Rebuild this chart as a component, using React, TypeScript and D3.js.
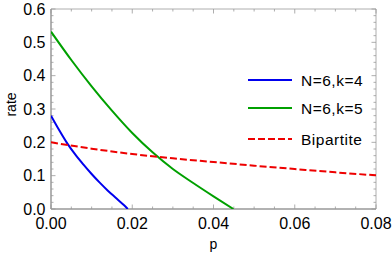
import React, { useEffect, useRef } from 'react';
import * as d3 from 'd3';

// curve data [p, rate]
const blueSeries: [number, number][] = [
  [0, 0.28], [0.002, 0.237], [0.004, 0.197], [0.006, 0.163], [0.008, 0.133],
  [0.01, 0.105], [0.012, 0.079], [0.014, 0.055], [0.016, 0.033], [0.018, 0.011], [0.0189, 0],
];
const greenSeries: [number, number][] = [
  [0, 0.532], [0.005, 0.447], [0.01, 0.368], [0.015, 0.295], [0.02, 0.228],
  [0.025, 0.17], [0.03, 0.12], [0.035, 0.078], [0.04, 0.038], [0.0449, 0],
];
const redSeries: [number, number][] = [
  [0, 0.2], [0.01, 0.181], [0.02, 0.165], [0.03, 0.152], [0.04, 0.141],
  [0.05, 0.13], [0.06, 0.12], [0.07, 0.11], [0.08, 0.101],
];
const legendLabels = ['N=6,k=4', 'N=6,k=5', 'Bipartite'];
const xTicks = [0, 0.02, 0.04, 0.06, 0.08];
const yTicks = [0, 0.1, 0.2, 0.3, 0.4, 0.5, 0.6];

const W = 392;
const H = 258;

export default function App() {
  const svgRef = useRef<SVGSVGElement>(null);

  useEffect(() => {
    const svg = d3.select(svgRef.current);
    svg.selectAll('*').remove();

    const left = 51, right = 376, top = 9, bottom = 209;
    const x = d3.scaleLinear().domain([0, 0.08]).range([left, right]);
    const y = d3.scaleLinear().domain([0, 0.6]).range([bottom, top]);
    const axisColor = '#999';
    const font = 'Liberation Sans, Arial, sans-serif';

    const g = svg.append('g');

    // minor + major ticks on all four sides (inward)
    const xMinor = d3.range(0, 0.0801, 0.005);
    const yMinor = d3.range(0, 0.601, 0.02);
    const isMajorX = (v: number) => Math.abs(v / 0.02 - Math.round(v / 0.02)) < 1e-6;
    const isMajorY = (v: number) => Math.abs(v / 0.1 - Math.round(v / 0.1)) < 1e-6;

    xMinor.forEach(v => {
      const len = isMajorX(v) ? 4.5 : 2.5;
      g.append('line').attr('x1', x(v)).attr('x2', x(v)).attr('y1', bottom).attr('y2', bottom - len)
        .attr('stroke', axisColor).attr('stroke-width', 0.8);
      g.append('line').attr('x1', x(v)).attr('x2', x(v)).attr('y1', top).attr('y2', top + len)
        .attr('stroke', axisColor).attr('stroke-width', 0.8);
    });
    yMinor.forEach(v => {
      const len = isMajorY(v) ? 4.5 : 2.5;
      g.append('line').attr('x1', left).attr('x2', left + len).attr('y1', y(v)).attr('y2', y(v))
        .attr('stroke', axisColor).attr('stroke-width', 0.8);
      g.append('line').attr('x1', right).attr('x2', right - len).attr('y1', y(v)).attr('y2', y(v))
        .attr('stroke', axisColor).attr('stroke-width', 0.8);
    });

    // frame
    g.append('line').attr('x1', left).attr('x2', right).attr('y1', top).attr('y2', top)
      .attr('stroke', axisColor).attr('stroke-width', 0.8);
    g.append('line').attr('x1', right).attr('x2', right).attr('y1', top).attr('y2', bottom)
      .attr('stroke', axisColor).attr('stroke-width', 0.8);
    g.append('line').attr('x1', left).attr('x2', right).attr('y1', bottom).attr('y2', bottom)
      .attr('stroke', axisColor).attr('stroke-width', 1.5);
    g.append('line').attr('x1', left).attr('x2', left).attr('y1', top).attr('y2', bottom)
      .attr('stroke', axisColor).attr('stroke-width', 1.5);

    // tick labels
    xTicks.forEach(v => {
      g.append('text').attr('x', x(v)).attr('y', 228.5)
        .attr('text-anchor', 'middle').style('font-family', font).style('font-size', '16px')
        .text(d3.format('.2f')(v));
    });
    yTicks.forEach(v => {
      g.append('text').attr('x', 45.5).attr('y', y(v) + 5.5)
        .attr('text-anchor', 'end').style('font-family', font).style('font-size', '16px')
        .text(d3.format('.1f')(v));
    });

    // axis titles
    g.append('text').attr('x', x(0.04)).attr('y', 249).attr('text-anchor', 'middle')
      .style('font-family', font).style('font-size', '14px').text('p');
    g.append('text').attr('transform', `translate(15.5,${104.5}) rotate(-90)`)
      .attr('text-anchor', 'middle').style('font-family', font).style('font-size', '14px').text('rate');

    // curves
    const line = d3.line<[number, number]>()
      .x(d => x(d[0])).y(d => y(d[1])).curve(d3.curveMonotoneX);

    const clip = svg.append('defs').append('clipPath').attr('id', 'plot-clip');
    clip.append('rect').attr('x', left).attr('y', top).attr('width', right - left).attr('height', bottom - top);

    const series = [
      { data: blueSeries, color: '#0000ee', dash: null },
      { data: greenSeries, color: '#00a000', dash: null },
      { data: redSeries, color: '#ee0000', dash: '7,3' },
    ];
    series.forEach(s => {
      g.append('path').datum(s.data)
        .attr('clip-path', 'url(#plot-clip)')
        .attr('fill', 'none').attr('stroke', s.color).attr('stroke-width', 2)
        .attr('stroke-dasharray', s.dash)
        .attr('d', line);
    });

    // legend
    const legendY = [80, 108, 139];
    series.forEach((s, i) => {
      g.append('line').attr('x1', 248).attr('x2', 292).attr('y1', legendY[i]).attr('y2', legendY[i])
        .attr('stroke', s.color).attr('stroke-width', 2).attr('stroke-dasharray', s.dash);
      g.append('text').attr('x', 301).attr('y', legendY[i] + 5.5)
        .style('font-family', font).style('font-size', '15.5px').style('letter-spacing', '0.5px')
        .text(legendLabels[i]);
    });
  }, []);

  return (
    <div style={{ position: 'absolute', left: 0, top: 0 }}>
      <svg ref={svgRef} width={W} height={H} style={{ display: 'block', background: '#fff' }} />
    </div>
  );
}
